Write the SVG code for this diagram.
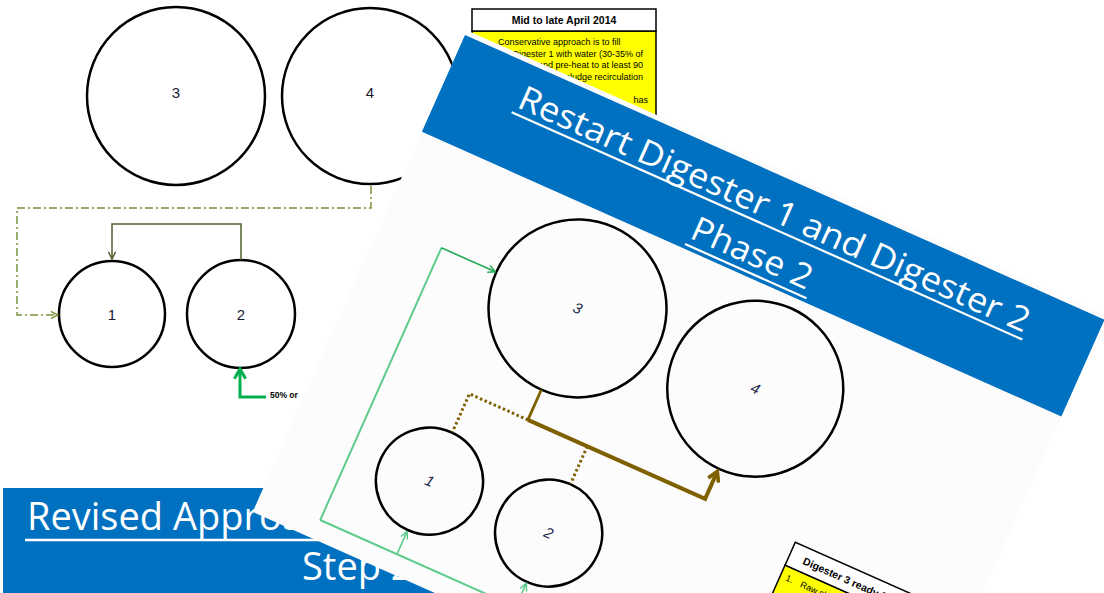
<svg xmlns="http://www.w3.org/2000/svg" width="1104" height="593" viewBox="0 0 1104 593">
  <style>
    .tank { fill: none; stroke: #000; stroke-width: 2.5; }
    .num { font-family: "Liberation Sans", Arial, sans-serif; font-size: 15px; fill: #1a1a2e; text-anchor: middle; }
    .inum { font-family: "Liberation Sans", Arial, sans-serif; font-size: 15px; font-style: italic; fill: #1f2a4a; text-anchor: middle; }
    .title { font-family: "Open Sans", "Liberation Sans", sans-serif; fill: #fff; }
    .tbl { font-family: "Liberation Sans", Arial, sans-serif; fill: #000; }
    .hdr { fill: #fff; stroke: #000; stroke-width: 1.5; }
    .yel { fill: #ffff00; stroke: #000; stroke-width: 1.5; }
  </style>
  <defs>
    <marker id="mOlive" viewBox="0 0 10 10" refX="9" refY="5" markerUnits="userSpaceOnUse" markerWidth="9" markerHeight="9" orient="auto">
      <path d="M1,1 L9,5 L1,9" fill="none" stroke="#77933C" stroke-width="1.6"/>
    </marker>
    <marker id="mDark" viewBox="0 0 10 10" refX="9" refY="5" markerUnits="userSpaceOnUse" markerWidth="9" markerHeight="9" orient="auto">
      <path d="M1,1 L9,5 L1,9" fill="none" stroke="#4F6228" stroke-width="1.6"/>
    </marker>
    <marker id="mGreenBig" viewBox="0 0 10 10" refX="8" refY="5" markerUnits="userSpaceOnUse" markerWidth="14" markerHeight="14" orient="auto">
      <path d="M1,1 L8,5 L1,9" fill="none" stroke="#00B050" stroke-width="2.2"/>
    </marker>
    <marker id="mGreen" viewBox="0 0 10 10" refX="9" refY="5" markerUnits="userSpaceOnUse" markerWidth="9" markerHeight="9" orient="auto">
      <path d="M1,1 L9,5 L1,9" fill="none" stroke="#22AA55" stroke-width="1.6"/>
    </marker>
    <marker id="mLight" viewBox="0 0 10 10" refX="9" refY="5" markerUnits="userSpaceOnUse" markerWidth="9" markerHeight="9" orient="auto">
      <path d="M1,1 L9,5 L1,9" fill="none" stroke="#55C888" stroke-width="1.6"/>
    </marker>
    <marker id="mBrown" viewBox="0 0 10 10" refX="8" refY="5" markerUnits="userSpaceOnUse" markerWidth="14" markerHeight="14" orient="auto">
      <path d="M1,1 L8,5 L1,9" fill="none" stroke="#7F6000" stroke-width="2.6"/>
    </marker>
  </defs>

  <rect x="0" y="0" width="1104" height="593" fill="#fff"/>

  <!-- Back slide: Revised Approach Step 2 -->
  <g id="back-slide">
    <g id="back-table">
      <rect class="yel" x="472" y="31" width="184" height="110"/>
      <rect class="hdr" x="472" y="9" width="184" height="22"/>
      <text class="tbl" x="564" y="24" font-size="10.5" font-weight="bold" text-anchor="middle">Mid to late April 2014</text>
      <text class="tbl" x="498" y="45" font-size="9">Conservative approach is to fill</text>
      <text class="tbl" x="643" y="56.5" font-size="9" text-anchor="end">Digester 1 with water (30-35% of</text>
      <text class="tbl" x="643" y="68" font-size="9" text-anchor="end">and pre-heat to at least 90</text>
      <text class="tbl" x="643" y="80" font-size="9" text-anchor="end">sludge recirculation</text>
      <text class="tbl" x="648" y="103" font-size="9" text-anchor="end">has</text>
    </g>

    <g id="back-tank-3">
      <circle class="tank" cx="176" cy="96" r="89"/>
      <text class="num" x="176" y="98">3</text>
    </g>
    <g id="back-tank-4">
      <circle class="tank" cx="370" cy="96" r="88"/>
      <text class="num" x="370" y="98">4</text>
    </g>
    <g id="back-tank-1">
      <circle class="tank" cx="112" cy="314" r="53"/>
      <text class="num" x="112" y="320">1</text>
    </g>
    <g id="back-tank-2">
      <circle class="tank" cx="241" cy="314" r="54"/>
      <text class="num" x="241" y="320">2</text>
    </g>

    <g id="back-connectors" fill="none">
      <path d="M371,186 V208 H17 V315 H58" stroke="#77933C" stroke-width="1.5" stroke-dasharray="8 3 2 3" marker-end="url(#mOlive)"/>
      <path d="M241,260 V224 H112 V259" stroke="#4F6228" stroke-width="1.5" marker-end="url(#mDark)"/>
      <path d="M266,397 H240 V369" stroke="#00B050" stroke-width="3" marker-end="url(#mGreenBig)"/>
    </g>
    <text class="tbl" x="270" y="398" font-size="8.5" font-weight="bold" fill="#333">50% or</text>

    <g id="back-title">
      <rect x="3" y="488" width="700" height="120" fill="#0070C0"/>
      <text class="title" x="27" y="530" font-size="38">Revised Approach</text>
      <line x1="25" y1="540" x2="360" y2="540" stroke="#fff" stroke-width="2.5"/>
      <text class="title" x="302" y="580" font-size="38">Step 2</text>
    </g>
  </g>

  <!-- Front slide (rotated): Restart Digester 1 and Digester 2 Phase 2 -->
  <g id="front-slide" transform="translate(465,35) rotate(24)">
    <rect x="0" y="-5" width="700" height="527" fill="#fcfcfc"/>
    <g id="front-title">
      <rect x="0" y="0" width="700" height="106" fill="#0070C0"/>
      <text class="title" x="353.5" y="45" font-size="34" text-anchor="middle" textLength="556" lengthAdjust="spacingAndGlyphs">Restart Digester 1 and Digester 2</text>
      <line x1="74" y1="51.5" x2="633" y2="51.5" stroke="#fff" stroke-width="2.2"/>
      <text class="title" x="351" y="94" font-size="34" text-anchor="middle" textLength="129" lengthAdjust="spacingAndGlyphs">Phase 2</text>
      <line x1="286" y1="101.5" x2="419" y2="101.5" stroke="#fff" stroke-width="2.2"/>
    </g>

    <g id="front-tank-3">
      <circle class="tank" cx="214" cy="204" r="89"/>
      <text class="inum" x="214" y="209">3</text>
    </g>
    <g id="front-tank-4">
      <circle class="tank" cx="409" cy="205" r="88"/>
      <text class="inum" x="409" y="210">4</text>
    </g>
    <g id="front-tank-1">
      <circle class="tank" cx="149" cy="422" r="53.5"/>
      <text class="inum" x="149" y="427">1</text>
    </g>
    <g id="front-tank-2">
      <circle class="tank" cx="279" cy="421" r="53.5"/>
      <text class="inum" x="279" y="426">2</text>
    </g>

    <g id="front-connectors" fill="none">
      <path d="M65,502 V204" stroke="#5CCB8C" stroke-width="2"/>
      <path d="M65,204 H124" stroke="#22AA55" stroke-width="1.6" marker-end="url(#mGreen)"/>
      <path d="M65,502 H440" stroke="#5CCB8C" stroke-width="2"/>
      <path d="M149,502 V477" stroke="#55C888" stroke-width="1.5" marker-end="url(#mLight)"/>
      <path d="M279,502 V476" stroke="#55C888" stroke-width="1.5" marker-end="url(#mLight)"/>
      <path d="M214,293 V326" stroke="#7F6000" stroke-width="2.8"/>
      <path d="M214,326 H408 V296" stroke="#7F6000" stroke-width="4" stroke-linejoin="miter" marker-end="url(#mBrown)"/>
      <path d="M214,326 H150 V368" stroke="#7F6000" stroke-width="3" stroke-dasharray="2.5 2.5"/>
      <path d="M279,326 V367" stroke="#7F6000" stroke-width="3" stroke-dasharray="2.5 2.5"/>
    </g>

    <g id="front-table">
      <rect class="yel" x="508" y="354" width="185" height="170"/>
      <rect class="hdr" x="508" y="329" width="185" height="25"/>
      <text class="tbl" x="523" y="346" font-size="10.5" font-weight="bold">Digester 3 ready for</text>
      <text class="tbl" x="514" y="368" font-size="9">1.</text>
      <text class="tbl" x="530" y="368" font-size="9">Raw sludge</text>
    </g>
  </g>
</svg>
